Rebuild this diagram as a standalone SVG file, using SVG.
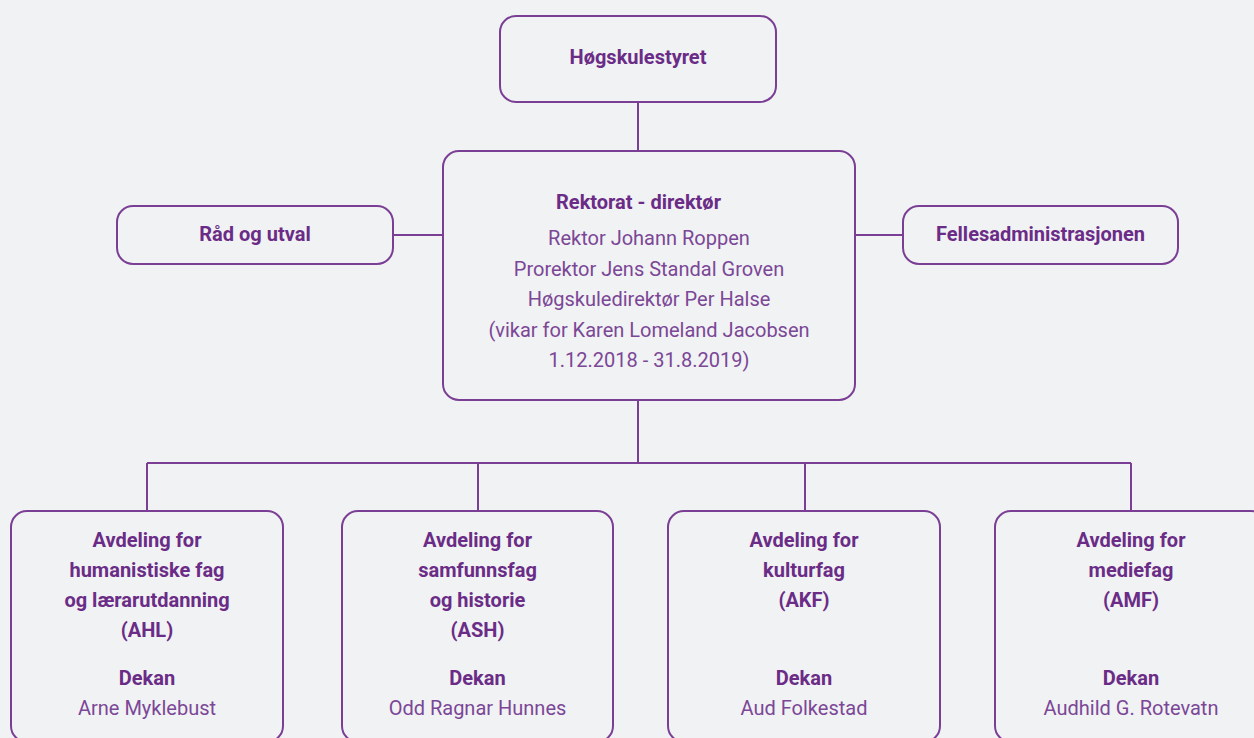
<svg xmlns="http://www.w3.org/2000/svg" width="1254" height="738" viewBox="0 0 1254 738">
<style>
.bg{fill:#f1f2f4}
.box{fill:none;stroke:#7a3f95;stroke-width:2}
.ln{fill:none;stroke:#7a3f95;stroke-width:2}
text{font-family:Roboto,"Liberation Sans",sans-serif;font-size:20px;text-anchor:middle}
.b{font-weight:bold;fill:#6a2c86}
.r{fill:#7b4796}
</style>
<rect class="bg" x="0" y="0" width="1254" height="738"/>
<g id="connectors">
<line class="ln" x1="638" y1="102" x2="638" y2="151"/>
<line class="ln" x1="393" y1="235" x2="443" y2="235"/>
<line class="ln" x1="855" y1="235" x2="903" y2="235"/>
<line class="ln" x1="638" y1="400" x2="638" y2="463"/>
<line class="ln" x1="147" y1="463" x2="1131" y2="463"/>
<line class="ln" x1="147" y1="463" x2="147" y2="511"/>
<line class="ln" x1="478" y1="463" x2="478" y2="511"/>
<line class="ln" x1="805" y1="463" x2="805" y2="511"/>
<line class="ln" x1="1131" y1="463" x2="1131" y2="511"/>
</g>
<g id="hogskulestyret">
<rect class="box" x="500" y="16" width="276" height="86" rx="16"/>
<text class="b" x="638" y="64">Høgskulestyret</text>
</g>
<g id="rektorat">
<rect class="box" x="443" y="151" width="412" height="249" rx="16"/>
<text class="b" x="638.5" y="209">Rektorat - direktør</text>
<text class="r" x="649" y="245">Rektor Johann Roppen</text>
<text class="r" x="649" y="276">Prorektor Jens Standal Groven</text>
<text class="r" x="649" y="306">Høgskuledirektør Per Halse</text>
<text class="r" x="649" y="337">(vikar for Karen Lomeland Jacobsen</text>
<text class="r" x="649" y="367">1.12.2018 - 31.8.2019)</text>
</g>
<g id="rad">
<rect class="box" x="117" y="206" width="276" height="58" rx="16"/>
<text class="b" x="255" y="241">Råd og utval</text>
</g>
<g id="felles">
<rect class="box" x="903" y="206" width="275" height="58" rx="16"/>
<text class="b" x="1040.5" y="241">Fellesadministrasjonen</text>
</g>
<g id="ahl">
<rect class="box" x="11" y="511" width="272" height="231" rx="16"/>
<text class="b" x="147" y="547">Avdeling for</text>
<text class="b" x="147" y="577">humanistiske fag</text>
<text class="b" x="147" y="607">og lærarutdanning</text>
<text class="b" x="147" y="637">(AHL)</text>
<text class="b" x="147" y="685">Dekan</text>
<text class="r" x="147" y="715">Arne Myklebust</text>
</g>
<g id="ash">
<rect class="box" x="342" y="511" width="271" height="231" rx="16"/>
<text class="b" x="477.5" y="547">Avdeling for</text>
<text class="b" x="477.5" y="577">samfunnsfag</text>
<text class="b" x="477.5" y="607">og historie</text>
<text class="b" x="477.5" y="637">(ASH)</text>
<text class="b" x="477.5" y="685">Dekan</text>
<text class="r" x="477.5" y="715">Odd Ragnar Hunnes</text>
</g>
<g id="akf">
<rect class="box" x="668" y="511" width="272" height="231" rx="16"/>
<text class="b" x="804" y="547">Avdeling for</text>
<text class="b" x="804" y="577">kulturfag</text>
<text class="b" x="804" y="607">(AKF)</text>
<text class="b" x="804" y="685">Dekan</text>
<text class="r" x="804" y="715">Aud Folkestad</text>
</g>
<g id="amf">
<rect class="box" x="995" y="511" width="272" height="231" rx="16"/>
<text class="b" x="1131" y="547">Avdeling for</text>
<text class="b" x="1131" y="577">mediefag</text>
<text class="b" x="1131" y="607">(AMF)</text>
<text class="b" x="1131" y="685">Dekan</text>
<text class="r" x="1131" y="715">Audhild G. Rotevatn</text>
</g>
</svg>
